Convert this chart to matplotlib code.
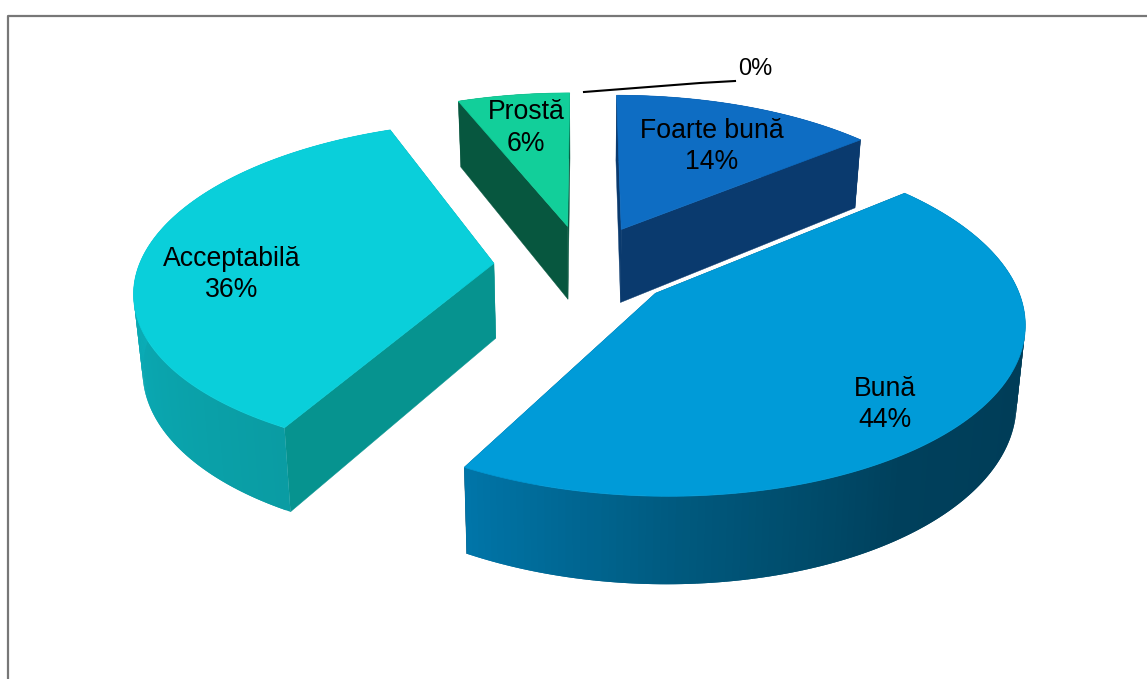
import numpy as np
import matplotlib
matplotlib.use("Agg")
import matplotlib.pyplot as plt
from matplotlib.colors import to_rgb

# data
categories = ["Foarte bună", "Bună", "Acceptabilă", "Prostă", ""]
values = [14, 44, 36, 6, 0]
percent_labels = ["14%", "44%", "36%", "6%", "0%"]

# colours per slice
top_colors = ["#0E6DC3", "#009BD8", "#0ACFDA", "#12CF9A"]
cut_colors = ["#0A3A6E", "#004060", "#06938F", "#07573F"]
wall_colors = [
    ["#0A3A6E", "#0A3A6E"],
    ["#003D58", "#003D58", "#003D58", "#00405C", "#00587C", "#0075A8"],
    ["#0A9CA3", "#0AA8B2", "#0BB2BD", "#0BB2BD"],
    ["#07573F", "#07573F"],
]

# projection of the pie plane to the picture (pixels)
CX, CY = 584, 266
A, B = 355, 164
PERSP = 0.148
EXPLODE = 0.255
DEPTH = 75.1
BOTTOM_SX, BOTTOM_SY = 0.98, 1.056


def project(u, v, bottom=False):
    w = 1 + PERSP * v
    if bottom:
        return CX + BOTTOM_SX * A * u / w, CY + DEPTH - BOTTOM_SY * B * v / w
    return CX + A * u / w, CY - B * v / w


def lerp_color(stops, t):
    rgb = np.array([to_rgb(c) for c in stops])
    pos = np.linspace(0, 1, len(stops))
    return tuple(np.interp(t, pos, rgb[:, i]) for i in range(3))


fig = plt.figure(figsize=(11.47, 6.79), dpi=100)
ax = fig.add_axes([0, 0, 1, 1])
ax.set_xlim(0, 1147)
ax.set_ylim(679, 0)
ax.axis("off")

fonts = ["Liberation Sans", "DejaVu Sans"]
plt.rcParams["font.family"] = fonts

# slice angles, clockwise from 12 o'clock
fracs = np.array(values, dtype=float) / sum(values)
ends = np.cumsum(fracs) * 2 * np.pi
starts = ends - fracs * 2 * np.pi

# back slices first
for i in [3, 0, 2, 1]:
    a0, a1 = starts[i], ends[i]
    mid = (a0 + a1) / 2
    ou, ov = EXPLODE * np.sin(mid), EXPLODE * np.cos(mid)
    th = np.linspace(a0, a1, 160)
    u = ou + np.sin(th)
    v = ov + np.cos(th)

    # the two cut faces
    for ang in (a0, a1):
        eu, ev = ou + np.sin(ang), ov + np.cos(ang)
        p = [project(ou, ov), project(eu, ev), project(eu, ev, True), project(ou, ov, True)]
        ax.fill(*zip(*p), color=cut_colors[i], lw=0.3, zorder=1)

    # outer wall, split in overlapping strips for the gradient
    for j in range(len(th) - 1):
        t = j / (len(th) - 2)
        k = min(j + 2, len(th) - 1)
        p = [project(u[j], v[j]), project(u[k], v[k]),
             project(u[k], v[k], True), project(u[j], v[j], True)]
        ax.fill(*zip(*p), color=lerp_color(wall_colors[i], t), lw=0, zorder=1)

    # top face
    tx, ty = project(np.r_[ou, u], np.r_[ov, v])
    ax.fill(tx, ty, color=top_colors[i], lw=0.5, zorder=1)

# labels
label_xy = [(712, 146.5), (885, 404.5), (232, 274.5), (526, 128)]
for name, pct, (x, y) in zip(categories[:4], percent_labels[:4], label_xy):
    ax.text(x, y, f"{name}\n{pct}", ha="center", va="center", fontsize=19.2,
            linespacing=1.27, color="black", family=fonts, zorder=5)

# leader line for the empty slice
ax.plot([584, 700, 735], [92, 83, 81], color="black", lw=1.5, zorder=5)
ax.text(755.5, 69, percent_labels[4], ha="center", va="center", fontsize=17,
        color="black", family=fonts, zorder=5)

# chart frame, cut by the picture edge
ax.plot([7.5, 7.5, 1147], [679, 15.5, 15.5], color="#777777", lw=1.6, zorder=0)

fig.savefig("out.png", dpi=100)
